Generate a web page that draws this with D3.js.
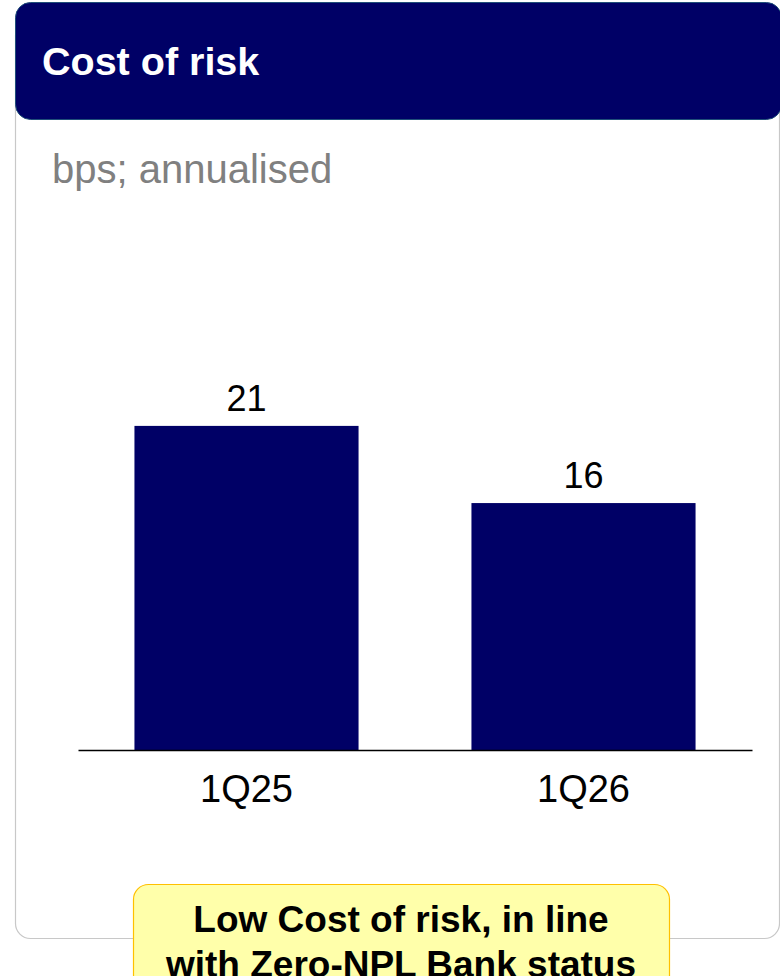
<!DOCTYPE html>
<html>
<head>
<meta charset="utf-8">
<script src="https://cdn.jsdelivr.net/npm/d3@7"></script>
<style>
  html, body { margin: 0; padding: 0; background: #ffffff; }
  svg { display: block; font-family: "Liberation Sans", Arial, sans-serif; }
</style>
</head>
<body>
<div id="chart"></div>
<script>
// data
var categories = ['1Q25', '1Q26'];
var values = [21, 16];
var title = 'Cost of risk';
var subtitle = 'bps; annualised';
var noteLines = ['Low Cost of risk, in line', 'with Zero-NPL Bank status'];

var width = 780, height = 976;
var svg = d3.select('#chart').append('svg')
    .attr('width', width)
    .attr('height', height);

// card outline
svg.append('rect')
    .attr('x', 15.5).attr('y', 20.5)
    .attr('width', 764).attr('height', 918)
    .attr('rx', 15)
    .attr('fill', '#ffffff')
    .attr('stroke', '#c8c8c8')
    .attr('stroke-width', 1.2);

// header
svg.append('rect')
    .attr('x', 15.5).attr('y', 2.5)
    .attr('width', 766).attr('height', 117)
    .attr('rx', 15)
    .attr('fill', '#000066')
    .attr('stroke', '#1f4e79')
    .attr('stroke-width', 1);

svg.append('text')
    .attr('x', 42).attr('y', 75)
    .attr('fill', '#ffffff')
    .style('font-size', '39.5px')
    .style('font-weight', 'bold')
    .text(title);

svg.append('text')
    .attr('x', 52).attr('y', 183)
    .attr('fill', '#808080')
    .style('font-size', '40px')
    .text(subtitle);

// scales
var x = d3.scaleBand()
    .domain(categories)
    .range([78, 752])
    .paddingInner(0.335)
    .paddingOuter(0.1675);

var y = d3.scaleLinear()
    .domain([0, 30])
    .range([750, 287]);

var g = svg.append('g');

g.selectAll('rect.bar')
    .data(values)
    .enter()
    .append('rect')
    .attr('class', 'bar')
    .attr('x', function (d, i) { return x(categories[i]); })
    .attr('y', function (d) { return y(d); })
    .attr('width', x.bandwidth())
    .attr('height', function (d) { return y(0) - y(d); })
    .attr('fill', '#000066');

g.selectAll('text.val')
    .data(values)
    .enter()
    .append('text')
    .attr('class', 'val')
    .attr('x', function (d, i) { return x(categories[i]) + x.bandwidth() / 2; })
    .attr('y', function (d) { return y(d) - 15; })
    .attr('text-anchor', 'middle')
    .attr('fill', '#000000')
    .style('font-size', '36px')
    .text(function (d) { return d; });

// axis
var xAxis = d3.axisBottom(x).tickSize(0).tickPadding(25);
var ax = svg.append('g')
    .attr('transform', 'translate(0,' + y(0) + ')')
    .call(xAxis);
ax.select('.domain')
    .attr('stroke', '#000000')
    .attr('stroke-width', 1.6);
ax.selectAll('.tick text')
    .attr('fill', '#000000')
    .style('font-size', '38px')
    .style('font-family', '"Liberation Sans", Arial, sans-serif');

// note box
svg.append('rect')
    .attr('x', 133.5).attr('y', 884.5)
    .attr('width', 536).attr('height', 120)
    .attr('rx', 15)
    .attr('fill', '#ffffaa')
    .attr('stroke', '#ffc000')
    .attr('stroke-width', 1.2);

svg.append('g').selectAll('text')
    .data(noteLines)
    .enter()
    .append('text')
    .attr('x', 401)
    .attr('y', function (d, i) { return 932 + i * 45; })
    .attr('text-anchor', 'middle')
    .attr('fill', '#000000')
    .style('font-size', '37px')
    .style('font-weight', 'bold')
    .text(function (d) { return d; });
</script>
</body>
</html>
